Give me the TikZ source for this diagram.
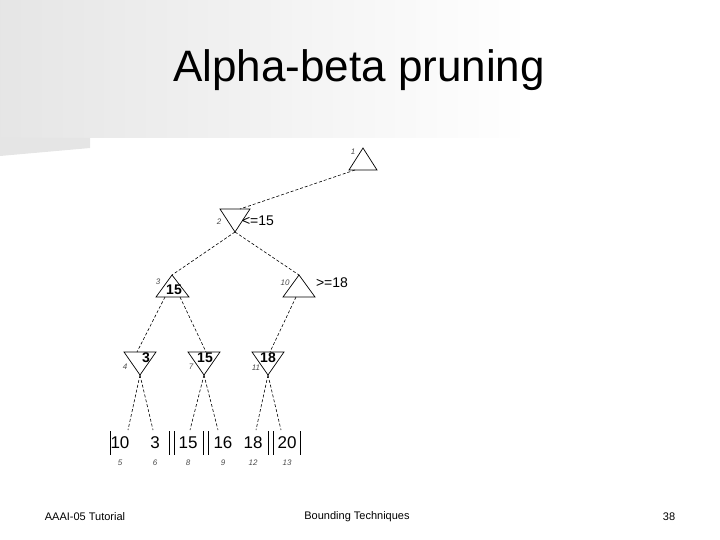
\documentclass[tikz,border=0pt]{standalone}
\usepackage{fontspec}
\setmainfont{Liberation Sans}
\begin{document}
\begin{tikzpicture}[x=1pt,y=-1pt,
  edge/.style={dash pattern=on 3pt off 2pt, line width=0.6pt},
  tri/.style={line width=0.7pt},
  val/.style={font=\fontsize{14}{14}\selectfont\bfseries, inner sep=0pt},
  lval/.style={font=\fontsize{17}{17}\selectfont, inner sep=0pt},
  idx/.style={font=\fontsize{8}{8}\selectfont\itshape, inner sep=0pt, text=black!70},
  bnd/.style={font=\fontsize{14}{14}\selectfont, inner sep=0pt},
  foot/.style={font=\fontsize{11}{11}\selectfont, inner sep=0pt}]
\useasboundingbox (0,0) rectangle (720,540);
\shade[left color=black!10, right color=white] (0,0) rectangle (530,138);
\fill[black!10] (0,138) -- (90,138) -- (90,148) -- (0,156) -- cycle;
\node[font=\fontsize{44}{44}\selectfont, inner sep=0pt] (title) at (359,70) {Alpha-beta pruning};
% root
\coordinate (r) at (363,148);
\draw[tri] (r) -- (377,170) -- (349,170) -- cycle;
\node[idx] (l1) at (353,152) {1};
% node 2 (min)
\coordinate (n2) at (235,232);
\draw[tri] (n2) -- (220,209) -- (250,209) -- cycle;
\node[idx] (l2) at (219,222) {2};
\node[bnd] (b2) at (258,221) {<=15};
\coordinate (r1) at (355,170);
\coordinate (n2t) at (240,209);
\draw[edge] (r1) -- (n2t);
% node 3 (max)
\coordinate (n3) at (172,275);
\draw[tri] (n3) -- (189,297) -- (156,297) -- cycle;
\node[val] (v3) at (174,290) {15};
\node[idx] (l3) at (158,282) {3};
% node 10 (max)
\coordinate (n10) at (299,275);
\draw[tri] (n10) -- (315,297) -- (283,297) -- cycle;
\node[idx] (l10) at (285,283) {10};
\node[bnd] (b10) at (332,283) {>=18};
\draw[edge] (n2) -- (n3);
\draw[edge] (n2) -- (n10);
% node 4,7,11 (min)
\coordinate (n4) at (140,375);
\draw[tri] (n4) -- (124,352) -- (156,352) -- cycle;
\node[val] (v4) at (146,358) {3};
\node[idx] (l4) at (125,367) {4};
\coordinate (n7) at (204,375);
\draw[tri] (n7) -- (188,352) -- (220,352) -- cycle;
\node[val] (v7) at (205,358) {15};
\node[idx] (l7) at (191,367) {7};
\coordinate (n11) at (268,375);
\draw[tri] (n11) -- (252,352) -- (284,352) -- cycle;
\node[val] (v11) at (268,358) {18};
\node[idx] (l11) at (256,368) {11};
\coordinate (n3a) at (165,297); \coordinate (n3b) at (180,297);
\coordinate (n10a) at (296,297);
\coordinate (n4t) at (137,352); \coordinate (n7t) at (206,352); \coordinate (n11t) at (270,352);
\draw[edge] (n3a) -- (n4t);
\draw[edge] (n3b) -- (n7t);
\draw[edge] (n10a) -- (n11t);
% leaves
\foreach \x/\v/\i/\name in {120/10/5/a,155/3/6/b,188/15/8/c,223/16/9/d,253/18/12/e,287/20/13/f}{
  \node[lval] (leaf\name) at (\x,443) {\v};
  \node[idx] (ix\name) at (\x,463) {\i};
}
\foreach \x in {110,169,174,203,208,268,273,300}{\draw[line width=0.8pt] (\x,431) -- (\x,455);}
\coordinate (la) at (128,430); \coordinate (lb) at (153,430);
\coordinate (lc) at (190,430); \coordinate (ld) at (218,430);
\coordinate (le) at (256,430); \coordinate (lf) at (281,430);
\draw[edge] (n4) -- (la); \draw[edge] (n4) -- (lb);
\draw[edge] (n7) -- (lc); \draw[edge] (n7) -- (ld);
\draw[edge] (n11) -- (le); \draw[edge] (n11) -- (lf);
% footer
\node[foot] (f1) at (85,517) {AAAI-05 Tutorial};
\node[foot] (f2) at (357,517) {Bounding Techniques};
\node[foot] (f3) at (669,517) {38};
\end{tikzpicture}
\end{document}
